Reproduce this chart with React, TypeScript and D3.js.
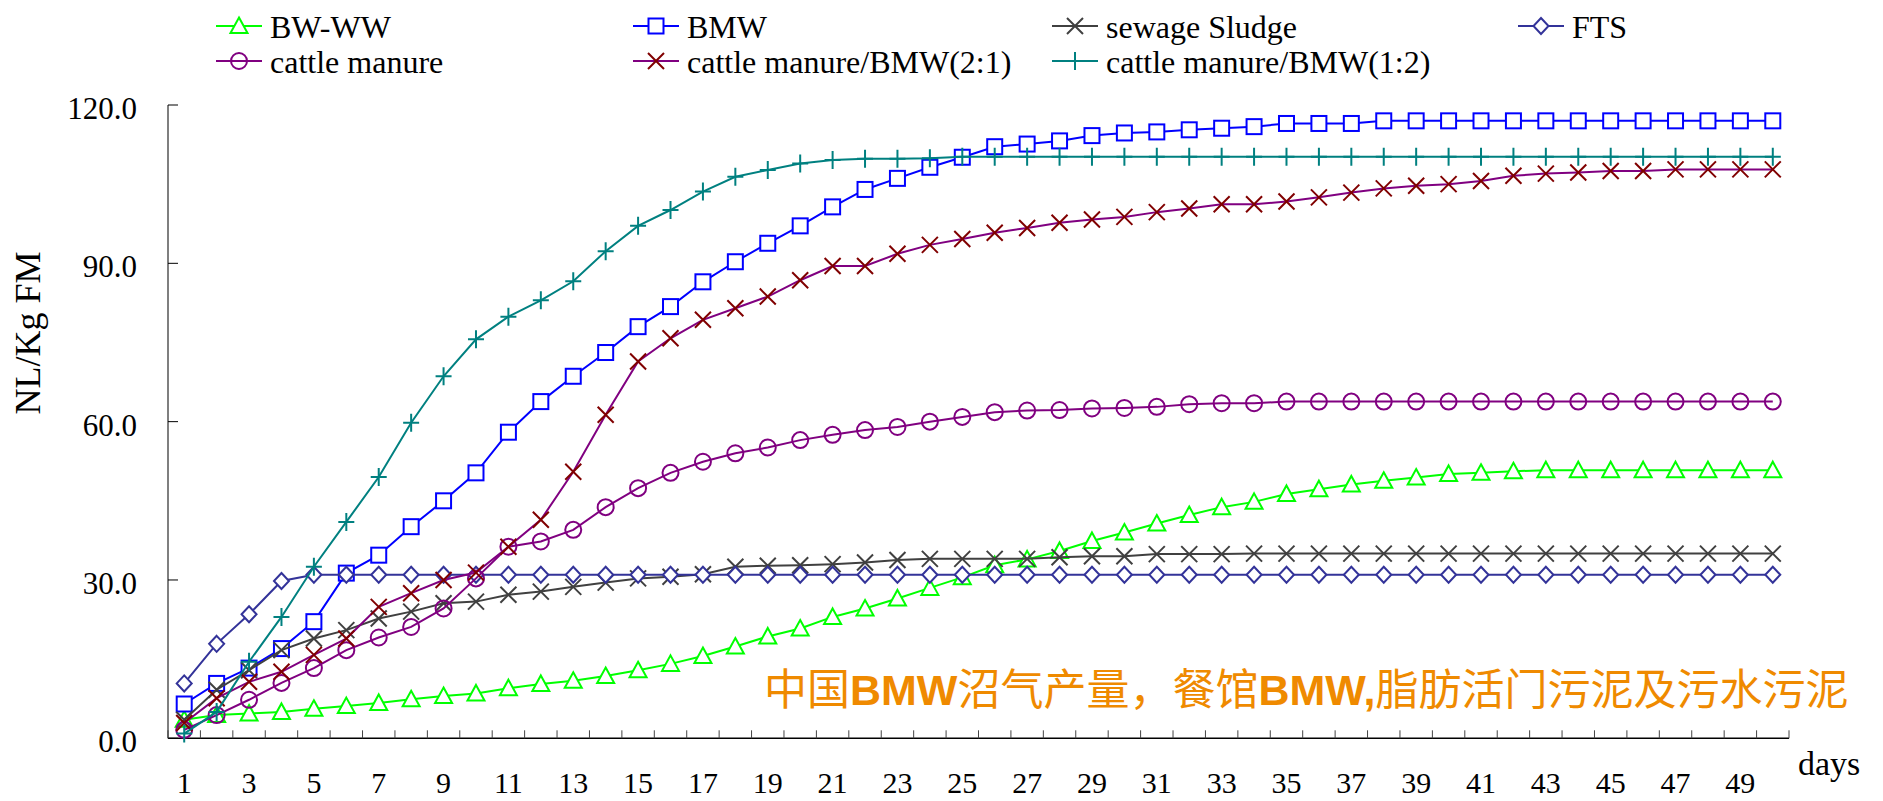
import React from "react";
import * as d3 from "d3";

// days on the x axis
const days = [
  1, 2, 3, 4, 5, 6, 7, 8, 9, 10, 11, 12, 13, 14, 15, 16, 17, 18, 19, 20, 21, 22, 23, 24, 25,
  26, 27, 28, 29, 30, 31, 32, 33, 34, 35, 36, 37, 38, 39, 40, 41, 42, 43, 44, 45, 46, 47, 48, 49, 50,
];
const dayLabels = [1, 3, 5, 7, 9, 11, 13, 15, 17, 19, 21, 23, 25, 27, 29, 31, 33, 35, 37, 39, 41, 43, 45, 47, 49];
const yTicks = [0, 30, 60, 90, 120];

// cumulative biogas, NL/Kg FM
const bwww = [
  3.5, 4.4, 4.7, 5.0, 5.6, 6.1, 6.7, 7.4, 8.0, 8.5, 9.5, 10.3, 10.9, 11.8, 12.9, 14.1, 15.6, 17.4, 19.3, 20.8,
  23.0, 24.6, 26.5, 28.5, 30.5, 32.8, 33.9, 35.5, 37.4, 39.0, 40.7, 42.3, 43.8, 44.8, 46.3, 47.2, 48.1, 48.8,
  49.4, 50.1, 50.3, 50.6, 50.8, 50.8, 50.8, 50.8, 50.8, 50.8, 50.8, 50.8,
];
const bmw = [
  6.5, 10.4, 13.3, 17.0, 22.1, 31.3, 34.7, 40.1, 45.0, 50.3, 58.0, 63.8, 68.6, 73.1, 78.0, 81.8, 86.5, 90.3,
  93.8, 97.1, 100.7, 104.0, 106.1, 108.2, 110.1, 112.1, 112.6, 113.2, 114.2, 114.7, 114.9, 115.3, 115.6, 115.9,
  116.5, 116.5, 116.5, 117.0, 117.0, 117.0, 117.0, 117.0, 117.0, 117.0, 117.0, 117.0, 117.0, 117.0, 117.0, 117.0,
];
const sewage = [
  3.5, 9.2, 12.9, 16.7, 18.9, 20.5, 22.7, 24.0, 25.6, 25.9, 27.2, 27.8, 28.7, 29.5, 30.3, 30.6, 31.1, 32.5, 32.7,
  32.8, 33.0, 33.3, 33.8, 34.0, 34.0, 34.0, 34.0, 34.3, 34.5, 34.5, 34.9, 34.9, 34.9, 35.0, 35.0, 35.0, 35.0,
  35.0, 35.0, 35.0, 35.0, 35.0, 35.0, 35.0, 35.0, 35.0, 35.0, 35.0, 35.0, 35.0,
];
const fts = [
  10.4, 17.9, 23.5, 29.8, 31.0, 31.0, 31.0, 31.0, 31.0, 31.0, 31.0, 31.0, 31.0, 31.0, 31.0, 31.0, 31.0, 31.0,
  31.0, 31.0, 31.0, 31.0, 31.0, 31.0, 31.0, 31.0, 31.0, 31.0, 31.0, 31.0, 31.0, 31.0, 31.0, 31.0, 31.0, 31.0,
  31.0, 31.0, 31.0, 31.0, 31.0, 31.0, 31.0, 31.0, 31.0, 31.0, 31.0, 31.0, 31.0, 31.0,
];
const cattle = [
  1.6, 4.4, 7.3, 10.5, 13.3, 16.7, 19.1, 21.1, 24.6, 30.3, 36.3, 37.3, 39.5, 43.8, 47.4, 50.3, 52.4, 54.0, 55.1,
  56.5, 57.5, 58.4, 59.0, 60.0, 60.9, 61.8, 62.1, 62.2, 62.5, 62.6, 62.8, 63.3, 63.5, 63.5, 63.8, 63.8, 63.8,
  63.8, 63.8, 63.8, 63.8, 63.8, 63.8, 63.8, 63.8, 63.8, 63.8, 63.8, 63.8, 63.8,
];
const mix21 = [
  2.9, 7.6, 10.7, 12.6, 15.8, 18.9, 24.9, 27.5, 30.0, 31.4, 36.3, 41.4, 50.5, 61.3, 71.4, 75.8, 79.3, 81.5, 83.7,
  86.8, 89.5, 89.5, 91.8, 93.5, 94.6, 95.8, 96.7, 97.7, 98.3, 98.8, 99.7, 100.4, 101.2, 101.2, 101.7, 102.5,
  103.4, 104.2, 104.7, 105.0, 105.6, 106.6, 107.0, 107.2, 107.5, 107.5, 107.8, 107.8, 107.8, 107.8,
];
const mix12 = [
  0.9, 5.0, 14.5, 23.0, 32.5, 41.0, 49.5, 59.8, 68.6, 75.6, 79.9, 83.0, 86.6, 92.3, 97.1, 100.1, 103.6, 106.4,
  107.7, 108.9, 109.6, 109.8, 109.8, 109.9, 110.2, 110.2, 110.2, 110.2, 110.2, 110.2, 110.2, 110.2, 110.2, 110.2,
  110.2, 110.2, 110.2, 110.2, 110.2, 110.2, 110.2, 110.2, 110.2, 110.2, 110.2, 110.2, 110.2, 110.2, 110.2, 110.2,
];

const series = [
  { name: "BW-WW", values: bwww, line: "#00ff00", mark: "#00ff00", shape: "triangle" },
  { name: "BMW", values: bmw, line: "#0000ff", mark: "#0000ff", shape: "square" },
  { name: "sewage Sludge", values: sewage, line: "#404040", mark: "#404040", shape: "x" },
  { name: "FTS", values: fts, line: "#333399", mark: "#333399", shape: "diamond" },
  { name: "cattle manure", values: cattle, line: "#800080", mark: "#800080", shape: "circle" },
  { name: "cattle manure/BMW(2:1)", values: mix21, line: "#800080", mark: "#800000", shape: "x" },
  { name: "cattle manure/BMW(1:2)", values: mix12, line: "#008080", mark: "#008080", shape: "plus" },
];

// legend slots (column x of marker, row y)
const legendCols = [239, 656, 1075, 1541, 239, 656, 1075];
const legendRows = [26, 26, 26, 26, 61, 61, 61];

const W = 1883;
const H = 801;
const serifStyle = { fontFamily: "Liberation Serif, Times New Roman, Times, DejaVu Serif, serif" };

function Marker({ shape, color, x, y }: { shape: string; color: string; x: number; y: number }) {
  const sw = 2;
  const t = `translate(${x},${y})`;
  if (shape === "triangle")
    return <path transform={t} d="M0,-8.5L8.5,7L-8.5,7Z" fill="white" stroke={color} strokeWidth={sw} />;
  if (shape === "square")
    return <rect transform={t} x={-7.5} y={-7.5} width={15} height={15} fill="white" stroke={color} strokeWidth={sw} />;
  if (shape === "diamond")
    return <path transform={t} d="M0,-8L7.5,0L0,8L-7.5,0Z" fill="white" stroke={color} strokeWidth={sw} />;
  if (shape === "circle") return <circle transform={t} r={8} fill="none" stroke={color} strokeWidth={sw} />;
  if (shape === "x")
    return <path transform={t} d="M-8,-8L8,8M-8,8L8,-8" fill="none" stroke={color} strokeWidth={sw} />;
  return <path transform={t} d="M-8,0L8,0M0,-9L0,9" fill="none" stroke={color} strokeWidth={sw} />;
}

export default function App() {
  const x = d3.scaleBand<number>().domain(days).range([168, 1789]).padding(0);
  const y = d3.scaleLinear().domain([0, 120]).range([738.3, 105]);
  const cx = (d: number) => (x(d) as number) + x.bandwidth() / 2;

  const line = d3
    .line<number>()
    .x((_, i) => cx(days[i]))
    .y((v) => y(v));

  const boundaries = days.map((d) => x(d) as number).concat([1789]);
  const boldLatin = { fontFamily: "Liberation Sans, Arial, sans-serif", fontWeight: 700 };

  return (
    <svg width={W} height={H} style={{ position: "absolute", left: 0, top: 0, background: "white" }}>
      <rect width={W} height={H} fill="white" />

      {/* y axis */}
      <line x1={168} x2={168} y1={y(120)} y2={y(0)} stroke="#555" strokeWidth={1.5} />
      {yTicks.map((t) => (
        <g key={t}>
          <line x1={168} x2={178} y1={y(t)} y2={y(t)} stroke="#000" strokeWidth={1} />
          <text x={137} y={y(t) + 14} textAnchor="end" style={serifStyle} fontSize={31}>
            {t.toFixed(1)}
          </text>
        </g>
      ))}
      <text transform={`translate(40,333) rotate(-90)`} textAnchor="middle" style={serifStyle} fontSize={36}>
        NL/Kg FM
      </text>

      {/* x axis */}
      <line x1={168} x2={1789} y1={y(0)} y2={y(0)} stroke="#000" strokeWidth={1.5} />
      {boundaries.map((b, i) => (
        <line key={i} x1={b} x2={b} y1={y(0)} y2={y(0) - 8} stroke="#444" strokeWidth={1} />
      ))}
      {dayLabels.map((d) => (
        <text key={d} x={cx(d)} y={793} textAnchor="middle" style={serifStyle} fontSize={30}>
          {d}
        </text>
      ))}
      <text x={1798} y={775} style={serifStyle} fontSize={34}>
        days
      </text>

      {/* series */}
      {series.map((s) => (
        <g key={s.name}>
          <path d={line(s.values) || ""} fill="none" stroke={s.line} strokeWidth={2} />
          {s.values.map((v, i) => (
            <Marker key={i} shape={s.shape} color={s.mark} x={cx(days[i])} y={y(v)} />
          ))}
        </g>
      ))}

      {/* legend */}
      {series.map((s, i) => (
        <g key={s.name}>
          <line
            x1={legendCols[i] - 23}
            x2={legendCols[i] + 23}
            y1={legendRows[i]}
            y2={legendRows[i]}
            stroke={s.line}
            strokeWidth={2}
          />
          <Marker shape={s.shape} color={s.mark} x={legendCols[i]} y={legendRows[i]} />
          <text x={legendCols[i] + 31} y={legendRows[i] + 12} style={serifStyle} fontSize={32}>
            {s.name}
          </text>
        </g>
      ))}

      {/* note */}
      <text x={764} y={705} fill="#ef8a00" style={{ fontFamily: "Noto Sans CJK SC, sans-serif" }} fontSize={43}>
        中国<tspan style={boldLatin}>BMW</tspan>沼气产量，餐馆<tspan style={boldLatin}>BMW,</tspan>脂肪活门污泥及污水污泥
      </text>
    </svg>
  );
}
